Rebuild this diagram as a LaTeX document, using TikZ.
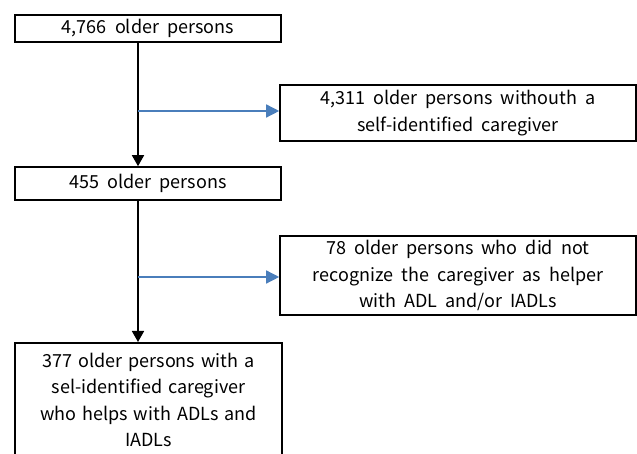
\documentclass[tikz,border=0pt]{standalone}
\usepackage{fontspec}
\setmainfont[WordSpace=2]{Noto Sans CJK JP}
\usetikzlibrary{arrows.meta}
\definecolor{arrowblue}{HTML}{4A7EBB}

\begin{document}
\begin{tikzpicture}[x=1pt,y=1pt,
    box/.style={draw,line width=1.6pt,inner sep=0pt,align=center,
      font=\fontsize{18}{26.5}\selectfont},
    mainarrow/.style={line width=1.6pt,-{Triangle[width=12pt,length=11pt]}},
    sidearrow/.style={draw=arrowblue,line width=1.4pt,
      -{Triangle[width=13pt,length=13pt]}}]
    \useasboundingbox (0,0) rectangle (637,454);

    % left column
    \node[box,minimum width=266pt,minimum height=27pt] (total) at (148,425.5) {4,766 older persons};
    \node[box,minimum width=266pt,minimum height=33pt] (persons) at (148,270.5) {455 older persons};
    \node[box,anchor=north,text width=259pt,inner xsep=4pt,inner ysep=10pt] (helped) at (148.5,112)
        {377 older persons with a\\sel-identified caregiver\\who helps with ADLs and\\IADLs};

    % excluded on the right
    \node[box,minimum width=356pt,minimum height=56pt] (nocare) at (458,341)
        {4,311 older persons withouth a\\self-identified caregiver};
    \node[box,minimum width=356pt,minimum height=79pt] (norecog) at (458,178.5)
        {78 older persons who did not\\recognize the caregiver as helper\\with ADL and/or IADLs};

    % branch points
    \coordinate (split1) at (138,343);
    \coordinate (split2) at (138,177);

    \draw[mainarrow] (total.south -| split1) -- (persons.north -| split1);
    \draw[mainarrow] (persons.south -| split2) -- (helped.north -| split2);
    \draw[sidearrow] (split1) -- (split1 -| nocare.west);
    \draw[sidearrow] (split2) -- (split2 -| norecog.west);
\end{tikzpicture}
\end{document}
